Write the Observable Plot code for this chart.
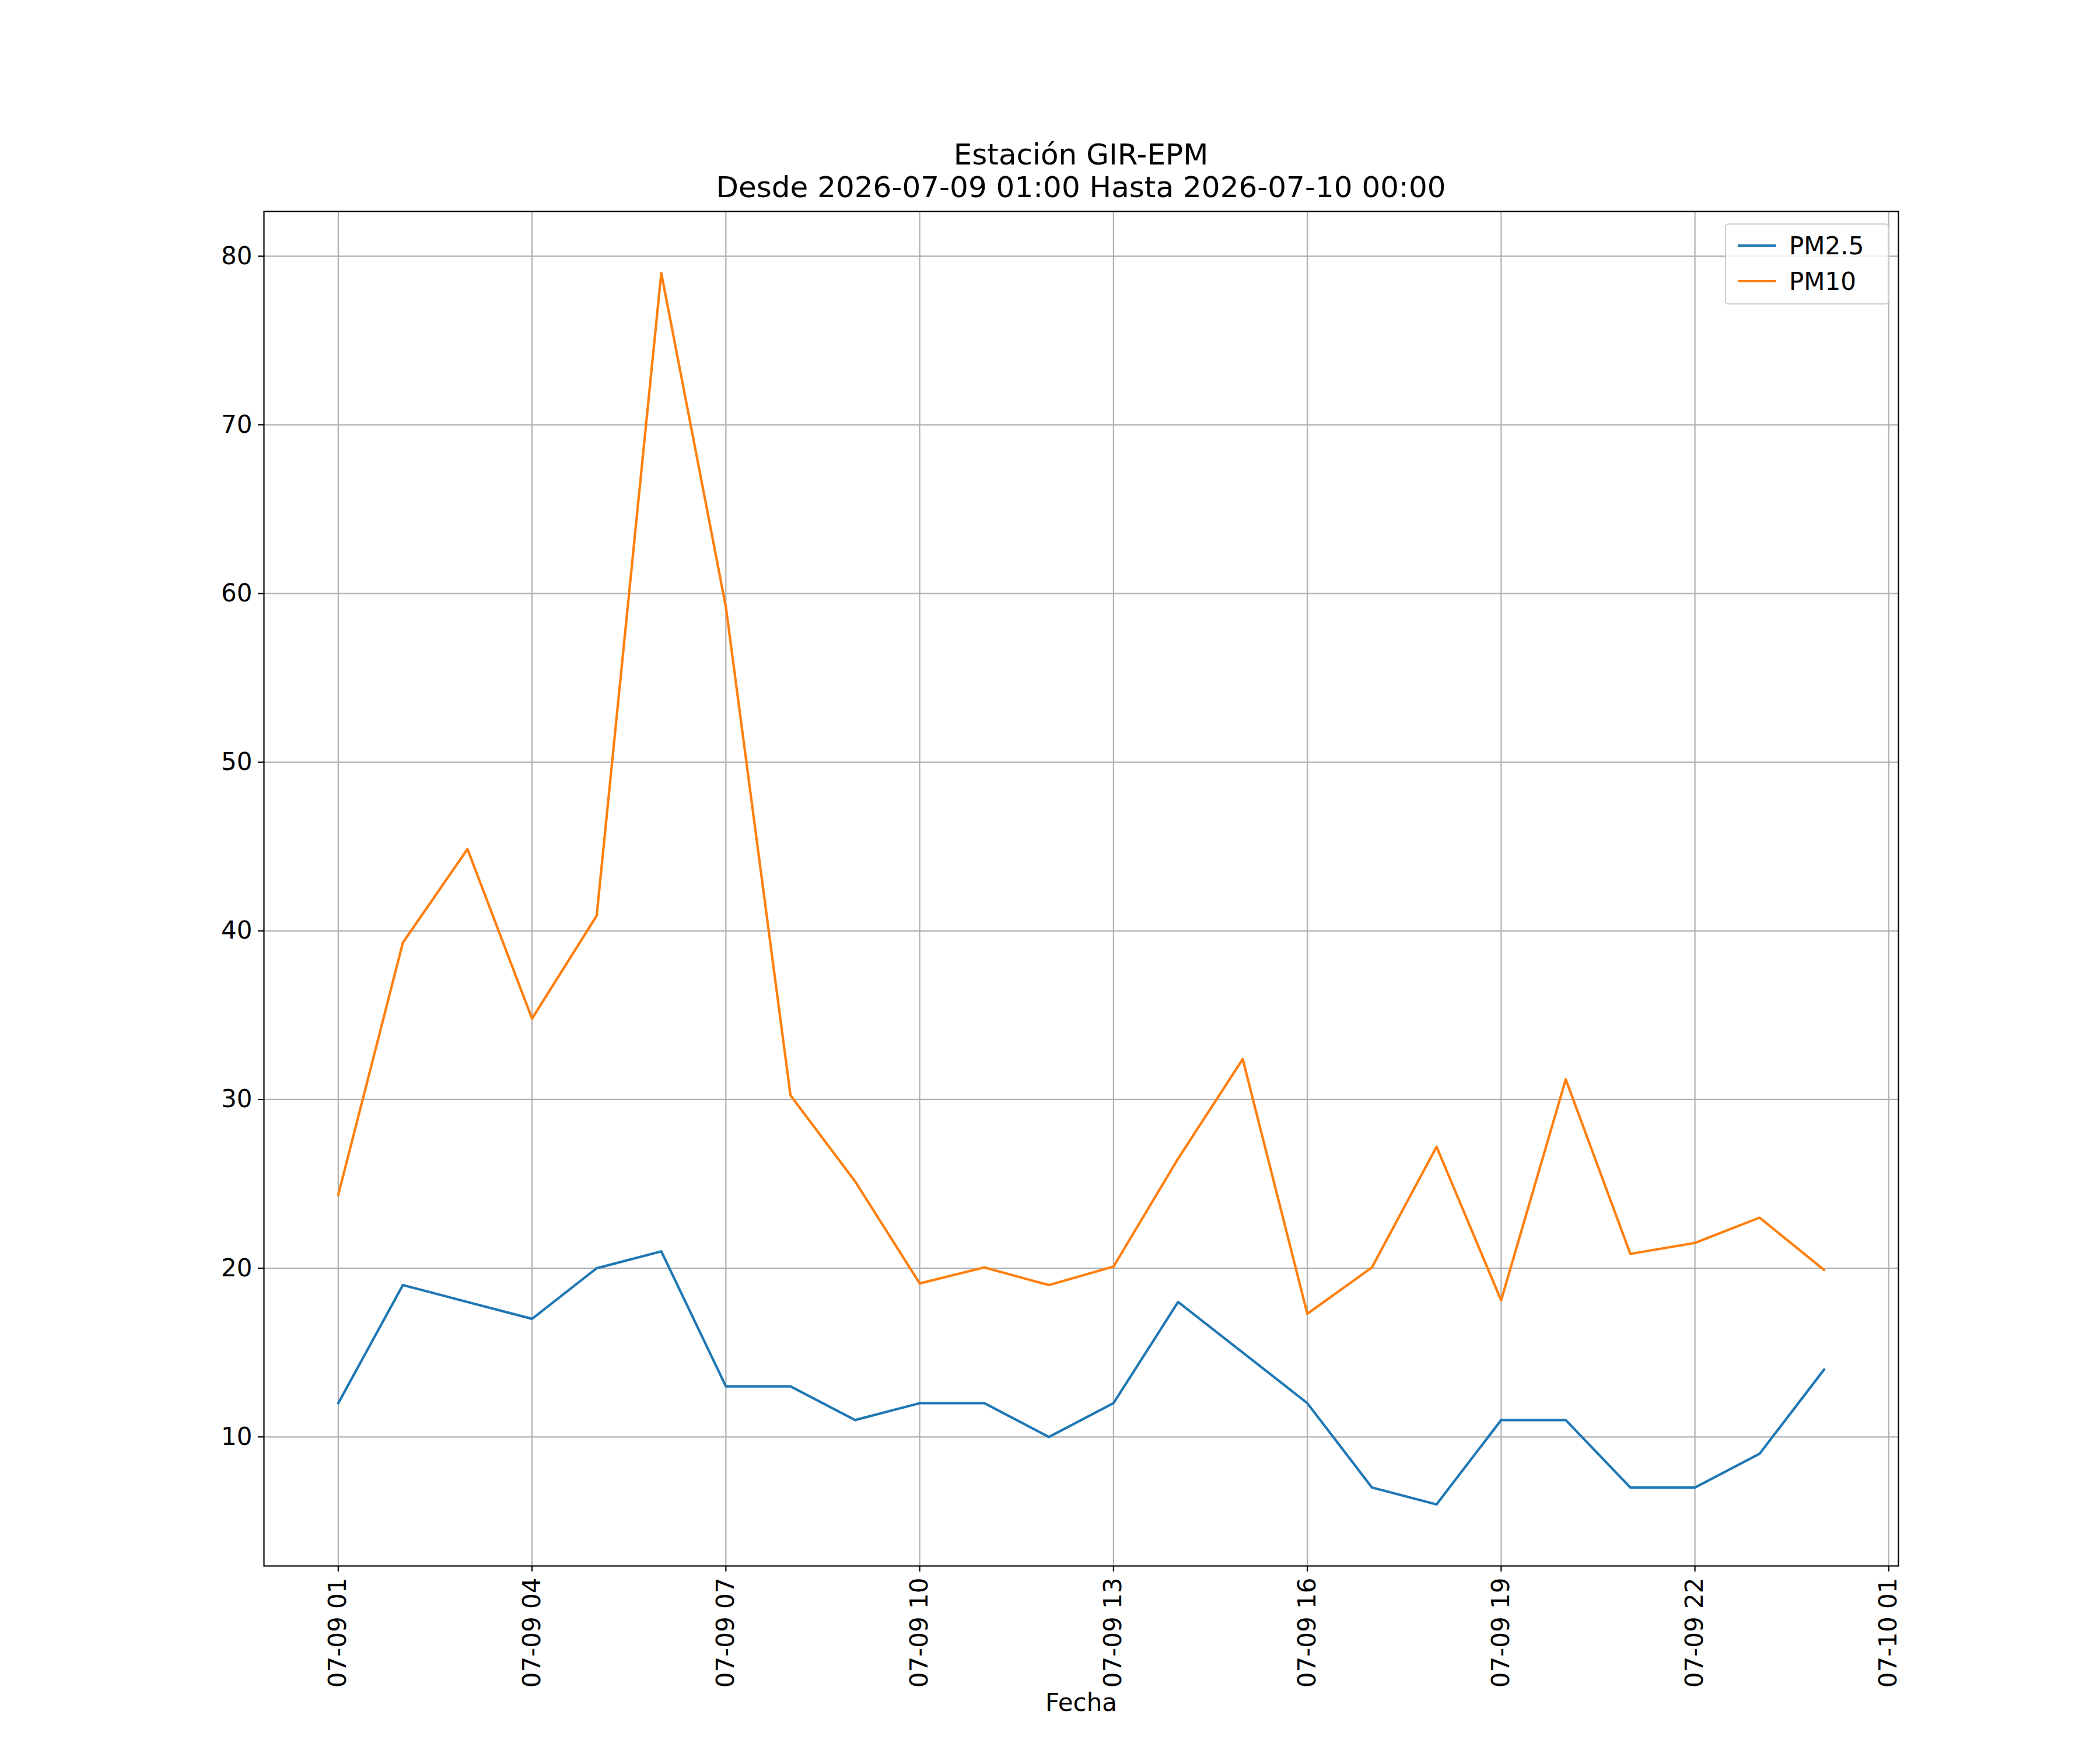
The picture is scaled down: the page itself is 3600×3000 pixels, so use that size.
<!DOCTYPE html>
<html><head><meta charset="utf-8">
<script src="https://cdn.jsdelivr.net/npm/d3@7"></script>
<script src="https://cdn.jsdelivr.net/npm/@observablehq/plot@0.6"></script>
<style>
html,body{margin:0;background:#fff;font-family:"DejaVu Sans",sans-serif;overflow:hidden;}
#wrap{position:relative;width:3600px;height:3000px;overflow:hidden;}
#title{height:360px;box-sizing:border-box;padding-top:237px;margin-left:452px;width:2802px;text-align:center;font-size:50px;line-height:56px;}
#chart svg{display:block;}
#legend{position:absolute;left:2957px;top:383px;width:281px;height:139px;box-sizing:border-box;border:2px solid #ccc;border-radius:6px;background:rgba(255,255,255,0.8);font-size:42px;}
.li{position:absolute;left:20px;display:flex;align-items:center;height:50px;}
.sw{width:66px;height:4px;margin-right:22px;}
</style></head><body>
<div id="wrap">
<div id="title">Estación GIR-EPM<br>Desde 2026-07-09 01:00 Hasta 2026-07-10 00:00</div>
<div id="chart"></div>
<div id="legend">
<div class="li" style="top:11px"><div class="sw" style="background:#1f77b4"></div>PM2.5</div>
<div class="li" style="top:72px"><div class="sw" style="background:#ff7f0e"></div>PM10</div>
</div>
</div>
<script>
const hours = ["2026-07-09T01","2026-07-09T02","2026-07-09T03","2026-07-09T04","2026-07-09T05","2026-07-09T06","2026-07-09T07","2026-07-09T08","2026-07-09T09","2026-07-09T10","2026-07-09T11","2026-07-09T12","2026-07-09T13","2026-07-09T14","2026-07-09T15","2026-07-09T16","2026-07-09T17","2026-07-09T18","2026-07-09T19","2026-07-09T20","2026-07-09T21","2026-07-09T22","2026-07-09T23","2026-07-10T00"];
const pm25 = [12,19,18,17,20,21,13,13,11,12,12,10,12,18,15,12,7,6,11,11,7,7,9,14];
const pm10 = [24.35,39.3,44.85,34.8,40.9,79.0,59.2,30.25,25.15,19.1,20.05,19.0,20.1,26.5,32.4,17.3,20.05,27.2,18.1,31.2,20.85,21.5,23.0,19.9];
const tickHours = ["2026-07-09T01","2026-07-09T04","2026-07-09T07","2026-07-09T10","2026-07-09T13","2026-07-09T16","2026-07-09T19","2026-07-09T22","2026-07-10T01"];
const yTicks = [10,20,30,40,50,60,70,80];

const dt = s => new Date(s + ":00:00Z");
const d25 = hours.map((h,i)=>({t:dt(h), v:pm25[i]}));
const d10 = hours.map((h,i)=>({t:dt(h), v:pm10[i]}));
const xt = tickHours.map(dt);
const fmt = d3.utcFormat("%m-%d %H");
const chart = Plot.plot({
  width:3600, height:2640,
  marginLeft:452, marginRight:346, marginTop:2, marginBottom:316,
  style:{fontFamily:"DejaVu Sans, sans-serif", fontSize:"42px", color:"#000"},
  x:{type:"utc", domain:[new Date(dt("2026-07-09T01").getTime()-1.15*3600e3), new Date(dt("2026-07-10T00").getTime()+1.15*3600e3)]},
  y:{domain:[2.35,82.65]},
  marks:[
    Plot.gridX(xt,{stroke:"#b0b0b0", strokeOpacity:1, strokeWidth:2.2}),
    Plot.gridY(yTicks,{stroke:"#b0b0b0", strokeOpacity:1, strokeWidth:2.2}),
    Plot.axisX(xt,{tickFormat:fmt, tickRotate:-90, tickSize:10, tickPadding:10, strokeWidth:2.2, label:"Fecha", labelAnchor:"center", labelArrow:"none", labelOffset:248, fontSize:42}),
    Plot.axisY(yTicks,{tickSize:10, tickPadding:10, strokeWidth:2.2, label:null, fontSize:42}),
    Plot.line(d25,{x:"t",y:"v",stroke:"#1f77b4",strokeWidth:4.2}),
    Plot.line(d10,{x:"t",y:"v",stroke:"#ff7f0e",strokeWidth:4.2}),
    Plot.frame({stroke:"#000", strokeWidth:2.2})
  ]
});
document.getElementById("chart").appendChild(chart);
</script>
</body></html>
